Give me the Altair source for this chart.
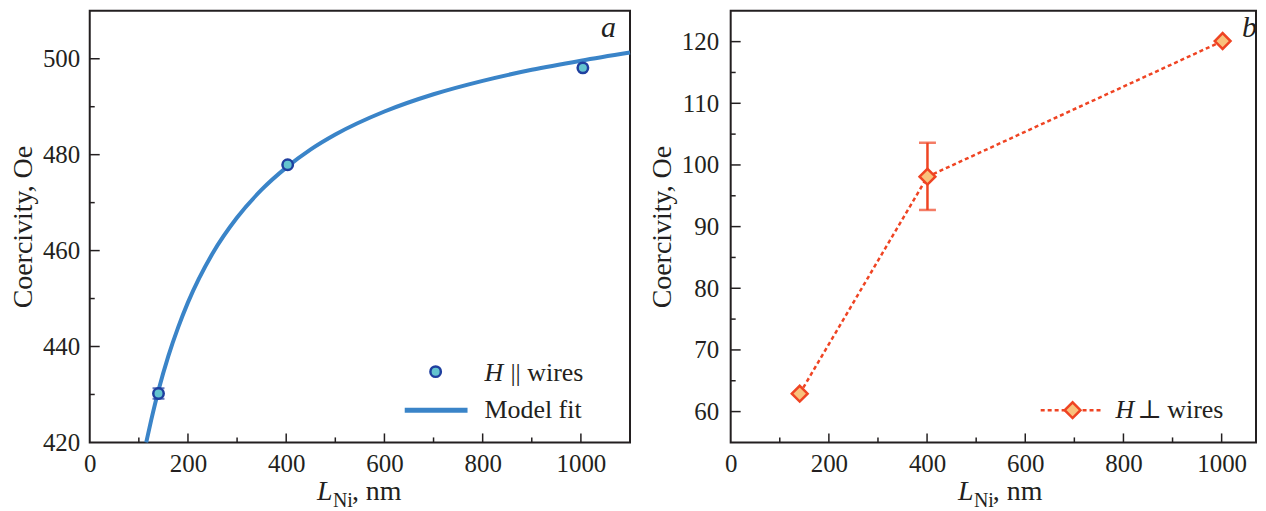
import altair as alt
import pandas as pd

# ---------------- data ----------------
# panel a: H || wires
par_len = [140, 403, 1004]
par_hc = [430.2, 477.9, 498.1]
par_err_len = [140]
par_err_lo = [429.1]
par_err_hi = [431.3]
# model fit curve (read point by point)
fit_len = [115, 125, 140, 160, 180, 200, 250, 300, 350, 400, 450, 500, 600, 700, 800, 900, 1000, 1100]
fit_hc = [420.0, 424.6, 430.9, 438.0, 444.0, 449.2, 459.4, 466.9, 472.7, 477.3, 481.1,
          484.2, 489.0, 492.6, 495.4, 497.7, 499.6, 501.3]

# panel b: H perpendicular to wires
perp_len = [140.6, 400.8, 1002]
perp_hc = [62.9, 98.1, 120.1]
perp_err_len = [400.8]
perp_err_lo = [92.7]
perp_err_hi = [103.6]

# ticks / labels
x_labels = [0, 200, 400, 600, 800, 1000]
x_major = [200, 400, 600, 800, 1000]
x_minor = [100, 300, 500, 700, 900]
a_y_labels = [420, 440, 460, 480, 500]
a_y_major = [440, 460, 480, 500]
a_y_minor = [430, 450, 470, 490]
b_y_labels = [60, 70, 80, 90, 100, 110, 120]
b_y_major = [60, 70, 80, 90, 100, 110, 120]
b_y_minor = [65, 75, 85, 95, 105, 115]

H = 433
FONT = "Liberation Serif, Times New Roman, serif"
INK = "#231f20"
ONE = alt.Data(values=[{}])


def txt(text, x, y, size=26, style="normal", align="left", baseline="alphabetic", font=FONT):
    return alt.Chart(ONE).mark_text(
        text=text, font=font, fontSize=size, fontStyle=style, align=align,
        baseline=baseline, color=INK
    ).encode(x=alt.value(x), y=alt.value(y))


def panel(width, x_max, y_domain, y_labels, y_major, y_minor, main_layers, legend_layers, letter, ylabpad):
    xs = alt.Scale(domain=[0, x_max], nice=False, zero=False)
    ys = alt.Scale(domain=y_domain, nice=False, zero=False)
    xaxis = alt.Axis(values=x_labels, format="d", title=None, ticks=False, domain=False, grid=False,
                     labelFlush=False, labelOverlap=False, labelPadding=9,
                     labelFont=FONT, labelFontSize=25, labelColor=INK)
    yaxis = alt.Axis(values=y_labels, format="d", title="Coercivity, Oe", ticks=False, domain=False,
                     grid=False, labelFlush=False, labelOverlap=False, labelPadding=ylabpad,
                     labelFont=FONT, labelFontSize=25, labelColor=INK,
                     titleFont=FONT, titleFontSize=28, titleFontWeight="normal",
                     titleColor=INK, titlePadding=5)
    layers = []
    for lay in main_layers:
        layers.append(lay(xs, ys, xaxis, yaxis))
    for vals, ln in [(x_major, 9), (x_minor, 5)]:
        layers.append(alt.Chart(pd.DataFrame({"v": vals})).mark_rule(color=INK, strokeWidth=1.5).encode(
            x=alt.X("v:Q", scale=xs, axis=xaxis), y=alt.value(H), y2=alt.value(H - ln)))
    for vals, ln in [(y_major, 10), (y_minor, 5)]:
        layers.append(alt.Chart(pd.DataFrame({"v": vals})).mark_rule(color=INK, strokeWidth=1.5).encode(
            y=alt.Y("v:Q", scale=ys, axis=yaxis), x=alt.value(0), x2=alt.value(ln)))
    layers += legend_layers
    layers.append(txt(letter, 528, 26, size=30, style="italic", align="right"))
    # x-axis title: L_Ni, nm
    layers.append(txt("L", 228, H + 58, size=28, style="italic"))
    layers.append(txt("Ni", 244, H + 65, size=20))
    layers.append(txt(", nm", 263, H + 58, size=28))
    return alt.layer(*layers).properties(width=width, height=H)


BLUE = "#3a84c8"
DBLUE = "#1f3f9f"
TEAL = "#64c4cf"
RED = "#ef4423"
ORANGE = "#f9c17c"


def fit_line(xs, ys, xa, ya):
    return alt.Chart(pd.DataFrame({"L": fit_len, "H": fit_hc})).mark_line(
        color=BLUE, strokeWidth=4, interpolate="monotone").encode(
        x=alt.X("L:Q", scale=xs, axis=xa), y=alt.Y("H:Q", scale=ys, axis=ya))


def par_err(xs, ys, xa, ya):
    return alt.Chart(pd.DataFrame({"L": par_err_len, "lo": par_err_lo, "hi": par_err_hi})).mark_errorbar(
        ticks={"size": 12, "color": DBLUE, "strokeWidth": 2}, color=DBLUE, thickness=2).encode(
        x=alt.X("L:Q", scale=xs, axis=xa), y=alt.Y("lo:Q", scale=ys, axis=ya), y2="hi:Q")


def par_pts(xs, ys, xa, ya):
    return alt.Chart(pd.DataFrame({"L": par_len, "H": par_hc})).mark_point(
        shape="circle", filled=True, fill=TEAL, stroke=DBLUE, strokeWidth=2.5, size=110, opacity=1).encode(
        x=alt.X("L:Q", scale=xs, axis=xa), y=alt.Y("H:Q", scale=ys, axis=ya))


def perp_line(xs, ys, xa, ya):
    return alt.Chart(pd.DataFrame({"L": perp_len, "H": perp_hc})).mark_line(
        color=RED, strokeWidth=2.5, strokeDash=[4, 3]).encode(
        x=alt.X("L:Q", scale=xs, axis=xa), y=alt.Y("H:Q", scale=ys, axis=ya))


def perp_err(xs, ys, xa, ya):
    return alt.Chart(pd.DataFrame({"L": perp_err_len, "lo": perp_err_lo, "hi": perp_err_hi})).mark_errorbar(
        ticks={"size": 17, "color": RED, "strokeWidth": 2.5}, color=RED, thickness=2.5).encode(
        x=alt.X("L:Q", scale=xs, axis=xa), y=alt.Y("lo:Q", scale=ys, axis=ya), y2="hi:Q")


def perp_pts(xs, ys, xa, ya):
    return alt.Chart(pd.DataFrame({"L": perp_len, "H": perp_hc})).mark_point(
        shape="diamond", filled=True, fill=ORANGE, stroke=RED, strokeWidth=2.5, size=250, opacity=1).encode(
        x=alt.X("L:Q", scale=xs, axis=xa), y=alt.Y("H:Q", scale=ys, axis=ya))


legend_a = [
    alt.Chart(ONE).mark_point(shape="circle", filled=True, fill=TEAL, stroke=DBLUE, strokeWidth=2.5,
                              size=110, opacity=1).encode(x=alt.value(347), y=alt.value(362)),
    txt("H", 396, 371, style="italic"),
    txt("|| wires", 422, 371),
    alt.Chart(ONE).mark_rule(color=BLUE, strokeWidth=5).encode(
        x=alt.value(316), x2=alt.value(379), y=alt.value(400.7)),
    txt("Model fit", 396, 409),
]

legend_b = [
    alt.Chart(ONE).mark_rule(color=RED, strokeWidth=2.5, strokeDash=[4, 3]).encode(
        x=alt.value(311), x2=alt.value(372), y=alt.value(400.7)),
    alt.Chart(ONE).mark_point(shape="diamond", filled=True, fill=ORANGE, stroke=RED, strokeWidth=2.5,
                              size=250, opacity=1).encode(x=alt.value(343), y=alt.value(400.7)),
    txt("H", 386, 409, style="italic"),
    txt("⊥", 420, 409, align="center", font="DejaVu Serif"),
    txt("wires", 438, 409),
]

pa = panel(542, 1100, [420, 510], a_y_labels, a_y_major, a_y_minor,
           [fit_line, par_err, par_pts], legend_a, "a", 10)
pb = panel(527, 1070, [55, 125], b_y_labels, b_y_major, b_y_minor,
           [perp_line, perp_err, perp_pts], legend_b, "b", 12)

chart = alt.hconcat(pa, pb, spacing=8).properties(
    padding={"left": 0, "top": 1, "right": 0, "bottom": 0}
).configure_view(stroke=INK, strokeWidth=2)

chart.save("out.html", embed_options={"renderer": "svg", "actions": False})
